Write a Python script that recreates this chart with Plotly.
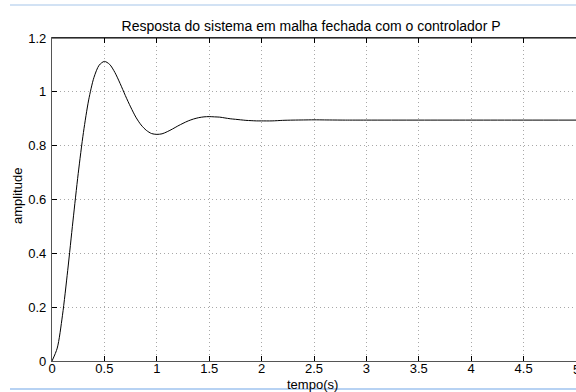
import plotly.graph_objects as go

# Closed-loop step response with a proportional controller
tempo = [0.00, 0.05, 0.10, 0.15, 0.20, 0.25, 0.30, 0.35, 0.40, 0.45,
         0.50, 0.55, 0.60, 0.65, 0.70, 0.75, 0.80, 0.85, 0.90, 0.95,
         1.00, 1.05, 1.10, 1.15, 1.20, 1.25, 1.30, 1.35, 1.40, 1.45,
         1.50, 1.55, 1.60, 1.65, 1.70, 1.75, 1.80, 1.85, 1.90, 1.95,
         2.00, 2.10, 2.20, 2.30, 2.40, 2.50, 2.60, 2.70, 2.80, 3.00,
         3.50, 4.00, 4.50, 5.00]
amplitude = [0.000, 0.048, 0.170, 0.337, 0.520, 0.696, 0.849, 0.970, 1.053, 1.099,
             1.113, 1.102, 1.072, 1.031, 0.986, 0.944, 0.906, 0.877, 0.857, 0.845,
             0.842, 0.844, 0.852, 0.862, 0.873, 0.883, 0.892, 0.899, 0.904, 0.907,
             0.908, 0.907, 0.906, 0.903, 0.900, 0.898, 0.896, 0.894, 0.893, 0.892,
             0.892, 0.892, 0.894, 0.895, 0.8955, 0.896, 0.8956, 0.8953, 0.895, 0.895,
             0.895, 0.895, 0.895, 0.895]

x_ticks = [0, 0.5, 1, 1.5, 2, 2.5, 3, 3.5, 4, 4.5, 5]
x_labels = ["0", "0.5", "1", "1.5", "2", "2.5", "3", "3.5", "4", "4.5", "5"]
y_ticks = [0, 0.2, 0.4, 0.6, 0.8, 1.0, 1.2]
y_labels = ["0", "0.2", "0.4", "0.6", "0.8", "1", "1.2"]

FONT = "Liberation Sans, Arial, Helvetica, sans-serif"
TICKFONT = dict(family=FONT, size=13, color="black")

fig = go.Figure()
fig.add_trace(go.Scatter(
    x=tempo, y=amplitude, mode="lines",
    line=dict(color="black", width=1, shape="spline", smoothing=0.8),
    showlegend=False, hoverinfo="skip",
))

grid = dict(showgrid=True, gridcolor="#a8a8a8", gridwidth=1, griddash="1px,3px",
            zeroline=False)
ticks = dict(ticks="inside", ticklen=5, tickcolor="black", tickwidth=1)

fig.update_layout(
    width=576, height=392,
    margin=dict(l=52, r=0, t=38, b=31),
    paper_bgcolor="white", plot_bgcolor="white",
    font=dict(family=FONT, color="black"),
    title=dict(text="Resposta do sistema em malha fechada com o controlador P",
               x=0.54, xanchor="center", y=0.933, yanchor="middle",
               font=dict(family=FONT, size=14, color="black")),
    xaxis=dict(range=[0, 5], tickvals=x_ticks, ticktext=x_labels,
               showline=True, linecolor="#555555", linewidth=1.3, mirror="allticks",
               tickfont=TICKFONT, ticklabelstandoff=-5, **ticks, **grid),
    yaxis=dict(range=[0, 1.2], tickvals=y_ticks, ticktext=y_labels,
               showline=True, linecolor="#555555", linewidth=1.3,
               tickfont=TICKFONT, ticklabelstandoff=2, **ticks, **grid),
    # right-hand tick marks without a visible frame line
    yaxis2=dict(range=[0, 1.2], tickvals=y_ticks, overlaying="y", side="right",
                showline=False, showticklabels=False, showgrid=False,
                zeroline=False, **ticks),
)

# top edge of the axes box
fig.add_shape(type="line", xref="paper", yref="paper", x0=0, x1=1, y0=1, y1=1,
              line=dict(color="black", width=1.2), layer="above")

# axis titles
fig.add_annotation(text="tempo(s)", xref="paper", yref="paper",
                   x=(312 - 52) / 524, y=-(384 - 361) / 323,
                   xanchor="center", yanchor="middle", showarrow=False,
                   font=dict(family=FONT, size=13, color="black"))
fig.add_annotation(text="amplitude", xref="paper", yref="paper",
                   x=-(52 - 17) / 524, y=(361 - 196) / 323, textangle=-90,
                   xanchor="center", yanchor="middle", showarrow=False,
                   font=dict(family=FONT, size=13, color="black"))
# last x tick label sits on the right edge
fig.add_annotation(text=x_labels[-1], x=x_ticks[-1], xref="x", yref="paper",
                   y=-(369 - 361) / 323, xanchor="center", yanchor="middle",
                   showarrow=False, font=TICKFONT)

# thin light-blue page rules above and below the figure
fig.add_shape(type="line", xref="paper", yref="paper",
              x0=-42 / 524, x1=1.0, y0=(361 - 5) / 323, y1=(361 - 5) / 323,
              line=dict(color="#c3d8f0", width=1.5))
fig.add_shape(type="line", xref="paper", yref="paper",
              x0=-42 / 524, x1=1.0, y0=-(389 - 361) / 323, y1=-(389 - 361) / 323,
              line=dict(color="#9fc3ef", width=1.5))

fig.write_html("out.html")
